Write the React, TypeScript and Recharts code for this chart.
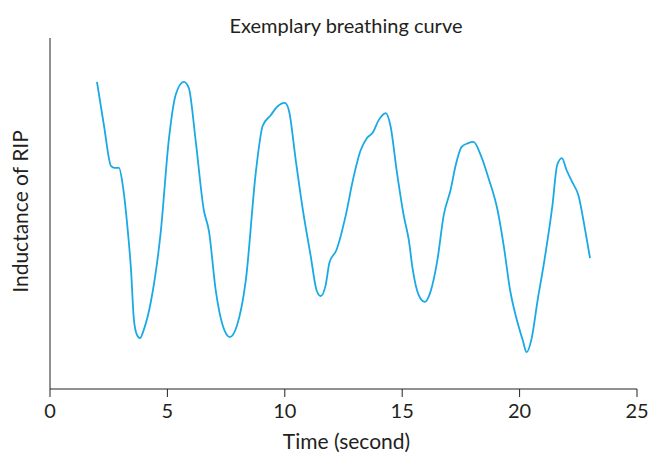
import React from "react";
import { LineChart, Line, XAxis, YAxis, Label } from "recharts";

const time = [
  2.0, 2.3, 2.6, 2.75, 2.94, 3.1, 3.3, 3.45, 3.57, 3.7, 3.83, 4.0, 4.3, 4.72, 5.06, 5.36, 5.7, 5.91,
  6.2, 6.55, 6.77, 7.06, 7.36, 7.66, 7.96, 8.34, 8.77, 9.06, 9.4, 9.66, 10.0, 10.17,
  10.47, 10.77, 11.1, 11.36, 11.53, 11.74, 11.9, 12.2, 12.6, 12.9, 13.23, 13.5, 13.74, 14.0, 14.3, 14.5,
  14.77, 15.06, 15.28, 15.45, 15.7, 15.96, 16.2, 16.5, 16.77, 17.06, 17.28, 17.53, 17.79, 18.04, 18.34, 18.68, 19.06,
  19.32, 19.6, 19.87, 20.13, 20.3, 20.5, 20.77, 21.06, 21.4, 21.6, 21.8, 22.0, 22.26, 22.5, 22.8, 23.0,
];

const inductance = [
  87.5, 75, 63.5, 63, 63, 58, 46, 34, 20, 15.5, 14.5, 17, 25, 45, 71, 84, 87.5, 85.8,
  71, 51, 45, 28, 18, 14.8, 18, 31, 62, 75, 78, 80.3, 81.5, 79.5,
  65, 51, 38, 28, 26.5, 29.6, 36, 39.6, 49.6, 59.5, 68, 71.5, 73, 76.6, 78.6, 75,
  62, 49.6, 42.5, 34, 26.8, 24.8, 27.6, 36.8, 49.6, 56.7, 63.8, 69, 70, 70.4, 66.7, 60, 51,
  41, 28, 20, 14, 10.5, 14, 25.4, 36.8, 52.4, 63.8, 65.8, 62.4, 58.7, 55.3, 45, 37.3,
];

const xTicks = [0, 5, 10, 15, 20, 25];
const yTicks = [0, 100];

const title = "Exemplary breathing curve";
const xTitle = "Time (second)";
const yTitle = "Inductance of RIP";

const data = time.map((t, i) => ({ t, v: inductance[i] }));

const FONT = "Lato, 'Open Sans', sans-serif";
const TEXT = "#231f20";

export default function App() {
  return (
    <div style={{ position: "absolute", left: 0, top: 0, width: 651, height: 454, background: "#fff" }}>
      <div
        style={{
          position: "absolute",
          left: 0,
          top: 13,
          width: 692,
          textAlign: "center",
          fontFamily: FONT,
          fontSize: 20,
          color: TEXT,
          lineHeight: "24px",
        }}
      >
        {title}
      </div>
      <LineChart
        width={651}
        height={454}
        data={data}
        margin={{ top: 38, right: 14, bottom: 0, left: 0 }}
      >
        <XAxis
          dataKey="t"
          type="number"
          domain={[0, 25]}
          ticks={xTicks}
          interval={0}
          height={65}
          tickSize={8}
          tickMargin={7}
          stroke="#222"
          tick={{ fill: TEXT, fontSize: 20, fontFamily: FONT }}
        >
          <Label
            content={({ viewBox }: any) => (
              <text
                x={viewBox.x + viewBox.width / 2 + 3}
                y={viewBox.y + 60}
                textAnchor="middle"
                fill={TEXT}
                fontSize={21}
                fontFamily={FONT}
              >
                {xTitle}
              </text>
            )}
          />
        </XAxis>
        <YAxis
          type="number"
          domain={[0, 100]}
          ticks={yTicks}
          width={50}
          tickSize={8}
          tick={false}
          stroke="#222"
        >
          <Label
            content={({ viewBox }: any) => {
              const cx = 28;
              const cy = viewBox.y + viewBox.height / 2 - 2;
              return (
                <text
                  x={cx}
                  y={cy}
                  transform={`rotate(-90 ${cx} ${cy})`}
                  textAnchor="middle"
                  fill={TEXT}
                  fontSize={21}
                  fontFamily={FONT}
                >
                  {yTitle}
                </text>
              );
            }}
          />
        </YAxis>
        <Line
          dataKey="v"
          type="monotone"
          stroke="#1aa9e6"
          strokeWidth={1.8}
          dot={false}
          isAnimationActive={false}
        />
      </LineChart>
    </div>
  );
}
